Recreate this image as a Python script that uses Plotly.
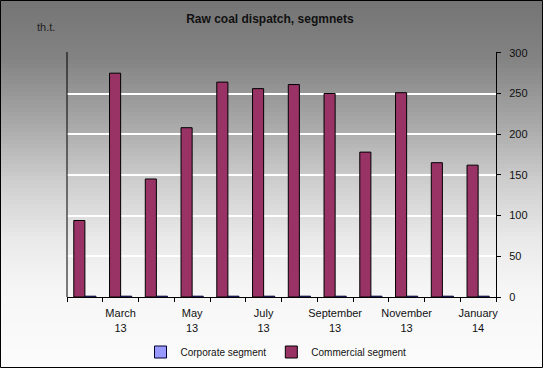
import plotly.graph_objects as go

months = ["Feb 13", "Mar 13", "Apr 13", "May 13", "Jun 13", "Jul 13",
          "Aug 13", "Sep 13", "Oct 13", "Nov 13", "Dec 13", "Jan 14"]
tick_text = ["", "March<br>13", "", "May<br>13", "", "July<br>13",
             "", "September<br>13", "", "November<br>13", "", "January<br>14"]
commercial = [94, 275, 145, 208, 264, 256, 261, 250, 178, 251, 165, 162]
corporate = [1, 1, 1, 1, 1, 1, 1, 1, 1, 1, 1, 1]

W, H = 543, 368
ML, MR, MT, MB = 67, 47, 52, 71
PW = W - ML - MR
PH = H - MT - MB

fig = go.Figure()
fig.add_trace(go.Bar(name="Commercial segment", x=months, y=commercial,
                     marker=dict(color="#993366", line=dict(color="#000000", width=1))))
fig.add_trace(go.Bar(name="Corporate segment", x=months, y=corporate,
                     marker=dict(color="#9999ff", line=dict(color="#000033", width=1))))

# gradient background via bands
stops = [(0, 0x74), (60, 0x84), (120, 0xa6), (180, 0xcd), (240, 0xea), (290, 0xf6), (368, 0xfc)]
def shade(y):
    for (y0, c0), (y1, c1) in zip(stops[:-1], stops[1:]):
        if y0 <= y <= y1:
            return c0 + (c1 - c0) * (y - y0) / (y1 - y0)
    return stops[-1][1]

shapes = []
band = 4
for y in range(0, H, band):
    c = int(round(shade(y + band / 2)))
    shapes.append(dict(type="rect", xref="paper", yref="paper", layer="below",
                       x0=-ML / PW, x1=(W - ML) / PW,
                       y0=(H - MB - (y + band + 0.5)) / PH, y1=(H - MB - y) / PH,
                       fillcolor=f"rgb({c},{c},{c})", line=dict(width=0)))
shapes.append(dict(type="rect", xref="paper", yref="paper", layer="above",
                   x0=(-ML + 0.5) / PW, x1=(W - ML - 0.5) / PW,
                   y0=(-MB + 0.5) / PH, y1=(H - MB - 0.5) / PH,
                   fillcolor="rgba(0,0,0,0)", line=dict(color="black", width=1)))
shapes.append(dict(type="line", xref="paper", yref="paper", x0=0, x1=0, y0=0, y1=1,
                   line=dict(color="black", width=1)))

fig.update_layout(
    width=W, height=H,
    margin=dict(l=ML, r=MR, t=MT, b=MB, autoexpand=False),
    paper_bgcolor="#f0f0f0",
    plot_bgcolor="rgba(0,0,0,0)",
    font=dict(family="Arial, Liberation Sans, sans-serif", size=11, color="#111"),
    title=dict(text="<b>Raw coal dispatch, segmnets</b>", x=0.497, xanchor="center",
               yref="container", y=1 - 15 / H, yanchor="top",
               font=dict(size=12, color="#111")),
    barmode="group", bargap=0.38, bargroupgap=0.0,
    showlegend=True,
    legend=dict(orientation="h", x=(276 - ML) / PW, xanchor="center",
                y=-(352 - (H - MB)) / PH,
                yanchor="middle", font=dict(size=10, color="#111"),
                bgcolor="rgba(0,0,0,0)", traceorder="reversed", itemwidth=30),
    xaxis=dict(type="category", tickvals=months, ticktext=tick_text, tickson="boundaries",
               tickangle=0, automargin=False, ticklabelstandoff=6,
               ticks="outside", ticklen=4, tickcolor="black", showline=True,
               linecolor="black", linewidth=1, showgrid=False,
               tickfont=dict(size=11, color="#111")),
    yaxis=dict(side="right", range=[0, 301], dtick=50, showgrid=True, gridcolor="white",
               gridwidth=1.5, zeroline=False, showline=True, linecolor="black", mirror=False,
               ticks="outside", ticklen=4, tickcolor="black", automargin=False,
               ticklabelstandoff=6,
               tickfont=dict(size=11, color="#111")),
    shapes=shapes,
    annotations=[dict(text="th.t.", xref="paper", yref="paper", x=(46 - ML) / PW,
                      y=(H - MB - 27) / PH, xanchor="center", yanchor="middle",
                      showarrow=False, font=dict(size=11, color="#222"))],
)

fig.write_html("out.html", config={"displayModeBar": False},
               post_script="document.body.style.margin='0';document.body.style.overflow='hidden';")
